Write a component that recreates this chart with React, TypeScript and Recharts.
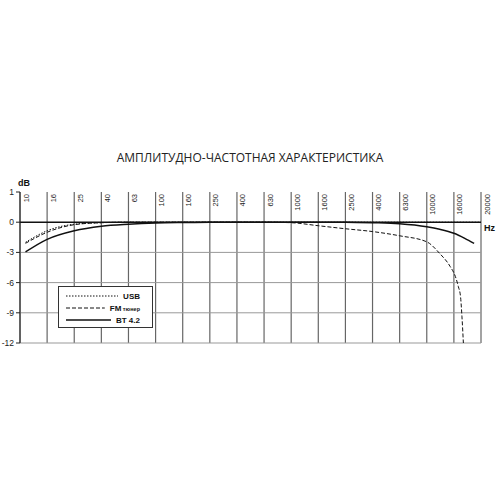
import React from "react"
import { LineChart, Line, XAxis, YAxis, CartesianGrid, ReferenceLine, Legend } from "recharts"

// Частоты на оси X (столбцы сетки одинаковой ширины)
const FREQ_TICKS = [10, 16, 25, 40, 63, 100, 160, 250, 400, 630, 1000, 1600, 2500, 4000, 6300, 10000, 16000, 20000]
const DB_TICKS = [-12, -9, -6, -3, 0, 3]

// USB
const usbFreq = [11, 16, 25, 40, 63, 100, 1000, 10000, 20000]
const usbDb = [-2.0, -0.85, -0.2, -0.05, 0, 0, 0, 0, 0]

// FM тюнер
const fmFreq = [11, 16, 25, 40, 63, 100, 630, 1000, 1600, 2500, 4000, 6300, 10000, 12500, 15000, 16200, 16600, 16900, 17100, 17300]
const fmDb = [-2.1, -1.0, -0.25, -0.05, 0, 0, 0, -0.05, -0.35, -0.65, -0.93, -1.35, -1.95, -3.1, -4.4, -5.4, -6.4, -7.4, -9.4, -12]

// BT 4.2
const btFreq = [11, 16, 25, 40, 63, 100, 160, 250, 2500, 4000, 6300, 10000, 12500, 16000, 17500, 18900]
const btDb = [-2.95, -1.7, -0.85, -0.4, -0.2, -0.08, -0.03, 0, 0, -0.05, -0.15, -0.45, -0.7, -1.1, -1.6, -2.1]

// позиция частоты между столбцами (лог. интерполяция внутри столбца)
const freqPos = (f: number) => {
  for (let i = 0; i < FREQ_TICKS.length - 1; i++) {
    const a = FREQ_TICKS[i]
    const b = FREQ_TICKS[i + 1]
    if (f >= a && f <= b) return i + Math.log(f / a) / Math.log(b / a)
  }
  return FREQ_TICKS.length - 1
}

const toData = (freq: number[], db: number[]) => freq.map((f, i) => ({ pos: freqPos(f), db: db[i] }))

const SERIES = [
  { name: "USB", data: toData(usbFreq, usbDb), dash: "1.5 1.5", width: 1 },
  { name: "FM", sub: "тюнер", data: toData(fmFreq, fmDb), dash: "4 2", width: 1 },
  { name: "BT 4.2", data: toData(btFreq, btDb), dash: undefined, width: 1.5 },
]

const FONT = "'Liberation Sans', Arial, sans-serif"

const FreqTick = (props: any) => {
  const { x, y, payload } = props
  return (
    <text
      transform={`translate(${x + 8.5},${y + 2}) rotate(-90)`}
      textAnchor="end"
      fontSize={7.5}
      fontFamily={FONT}
      fill="#222"
      stroke="none"
    >
      {FREQ_TICKS[payload.value]}
    </text>
  )
}

const LegendBox = () => (
  <div
    style={{
      width: 95,
      height: 42,
      border: "1px solid #333",
      background: "#fff",
      fontFamily: FONT,
      fontWeight: "bold",
      fontSize: 8,
      color: "#111",
      padding: "3px 12px 0 7px",
      boxSizing: "border-box",
    }}
  >
    {SERIES.map((s) => (
      <div key={s.name} style={{ display: "flex", alignItems: "center", height: 12 }}>
        <svg style={{ flex: 1, height: 4, marginRight: 5 }}>
          <line x1="0" y1="2" x2="100%" y2="2" stroke="#111" strokeWidth={s.width} strokeDasharray={s.dash} />
        </svg>
        <span style={{ whiteSpace: "nowrap" }}>
          {s.name}
          {s.sub && <span style={{ fontSize: 5.5 }}> {s.sub}</span>}
        </span>
      </div>
    ))}
  </div>
)

export default function App() {
  return (
    <div style={{ position: "absolute", left: 0, top: 0, width: 500, height: 500, background: "#fff" }}>
      <div
        style={{
          position: "absolute",
          top: 149,
          left: 0,
          width: 500,
          textAlign: "center",
          fontFamily: "'Open Sans', sans-serif",
          fontSize: 12,
          color: "#222",
        }}
      >
        АМПЛИТУДНО-ЧАСТОТНАЯ ХАРАКТЕРИСТИКА
      </div>
      <LineChart width={500} height={500} margin={{ top: 172, right: 19, bottom: 157, left: 0 }}>
        <CartesianGrid horizontal={false} stroke="#666" strokeWidth={1.2} />
        <CartesianGrid vertical={false} horizontalValues={[-12, -9, -6, -3]} stroke="#999" />
        <XAxis
          type="number"
          dataKey="pos"
          orientation="top"
          domain={[0, FREQ_TICKS.length - 1]}
          ticks={FREQ_TICKS.map((_, i) => i)}
          interval={0}
          height={20}
          axisLine={false}
          tickLine={false}
          tickSize={0}
          tickMargin={0}
          tick={<FreqTick />}
        />
        <YAxis
          type="number"
          domain={[-12, 3]}
          ticks={DB_TICKS}
          width={20}
          tickFormatter={(v: number) => (v === 3 ? "1" : String(v))}
          tick={{ fontSize: 8.5, fontFamily: FONT, fill: "#222" }}
          tickSize={4}
          tickMargin={2}
          axisLine={{ stroke: "#222" }}
          tickLine={{ stroke: "#222" }}
          label={{ value: "dB", position: "top", dx: 14, dy: -1, fontSize: 9, fontWeight: "bold", fontFamily: FONT, fill: "#111" }}
        />
        <ReferenceLine
          y={0}
          stroke="#111"
          strokeWidth={1.5}
          label={{ value: "Hz", position: "right", offset: 3, dy: 6, fontSize: 9, fontWeight: "bold", fontFamily: FONT, fill: "#111" }}
        />
        {SERIES.map((s) => (
          <Line
            key={s.name}
            data={s.data}
            dataKey="db"
            name={s.name}
            type="monotone"
            stroke="#111"
            strokeWidth={s.width}
            strokeDasharray={s.dash}
            dot={false}
            isAnimationActive={false}
          />
        ))}
        <Legend
          layout="horizontal"
          verticalAlign="middle"
          align="center"
          wrapperStyle={{ left: 58, top: 286, width: 95, height: 42 }}
          content={() => <LegendBox />}
        />
      </LineChart>
    </div>
  )
}
